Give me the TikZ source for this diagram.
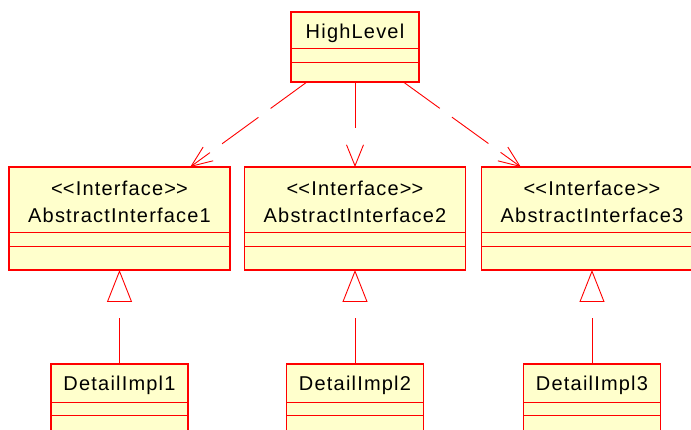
\documentclass[tikz,border=0pt]{standalone}
\usepackage{fontspec}
\setmainfont{Liberation Sans}[LetterSpace=6]
\usetikzlibrary{arrows.meta}
\definecolor{umlfill}{RGB}{255,255,204}
\definecolor{umlred}{RGB}{255,0,0}
\newcommand{\stereo}[1]{<\kern0pt<#1>\kern0pt>}
\tikzset{
  cls/.style={draw=umlred, fill=umlfill, line width=1.4pt, inner sep=0pt, outer sep=0pt},
  cline/.style={draw=umlred, line width=1pt},
  lbl/.style={anchor=base, inner sep=0pt, font=\fontsize{20}{24}\selectfont},
  dep/.style={draw=umlred, line width=0.9pt, dash pattern=on 45pt off 15pt,
    -{Straight Barb[length=21pt,width=17pt]}},
  gen/.style={draw=umlred, line width=0.9pt, dash pattern=on 46pt off 20pt,
    -{Triangle[open,length=32pt,width=25pt]}}
}
\begin{document}
\begin{tikzpicture}[x=1pt,y=-1pt]
\clip (0,0) rectangle (691,430);
\fill[white] (0,0) rectangle (691,430);

% high level class
\node[cls, minimum width=128, minimum height=70] (hl) at (355,47) {};
\node[lbl] (hlname) at ([yshift=-27]hl.north) {HighLevel};
\draw[cline] ([yshift=-37]hl.north west) -- ([yshift=-37]hl.north east);
\draw[cline] ([yshift=-51]hl.north west) -- ([yshift=-51]hl.north east);

% interfaces
\foreach \i/\x in {1/119.5,2/355,3/592}{
  \node[cls, minimum width=221, minimum height=103] (ai\i) at (\x,218.5) {};
  \node[lbl] (aistereo\i) at ([yshift=-29]ai\i.north) {\stereo{Interface}};
  \node[lbl] (ainame\i) at ([yshift=-56]ai\i.north) {AbstractInterface\i};
  \draw[cline] ([yshift=-66]ai\i.north west) -- ([yshift=-66]ai\i.north east);
  \draw[cline] ([yshift=-80]ai\i.north west) -- ([yshift=-80]ai\i.north east);
}

% implementations
\foreach \i/\x in {1/119.5,2/355,3/592}{
  \node[cls, minimum width=137, minimum height=70] (di\i) at (\x,399) {};
  \node[lbl] (diname\i) at ([yshift=-27]di\i.north) {DetailImpl\i};
  \draw[cline] ([yshift=-38]di\i.north west) -- ([yshift=-38]di\i.north east);
  \draw[cline] ([yshift=-51]di\i.north west) -- ([yshift=-51]di\i.north east);
  \draw[gen] (di\i) -- (ai\i);
}

% dependencies
\draw[dep] (hl) -- (ai1);
\draw[dep, dash pattern=on 46pt off 60pt] (hl) -- (ai2);
\draw[dep] (hl) -- (ai3);
\end{tikzpicture}
\end{document}
